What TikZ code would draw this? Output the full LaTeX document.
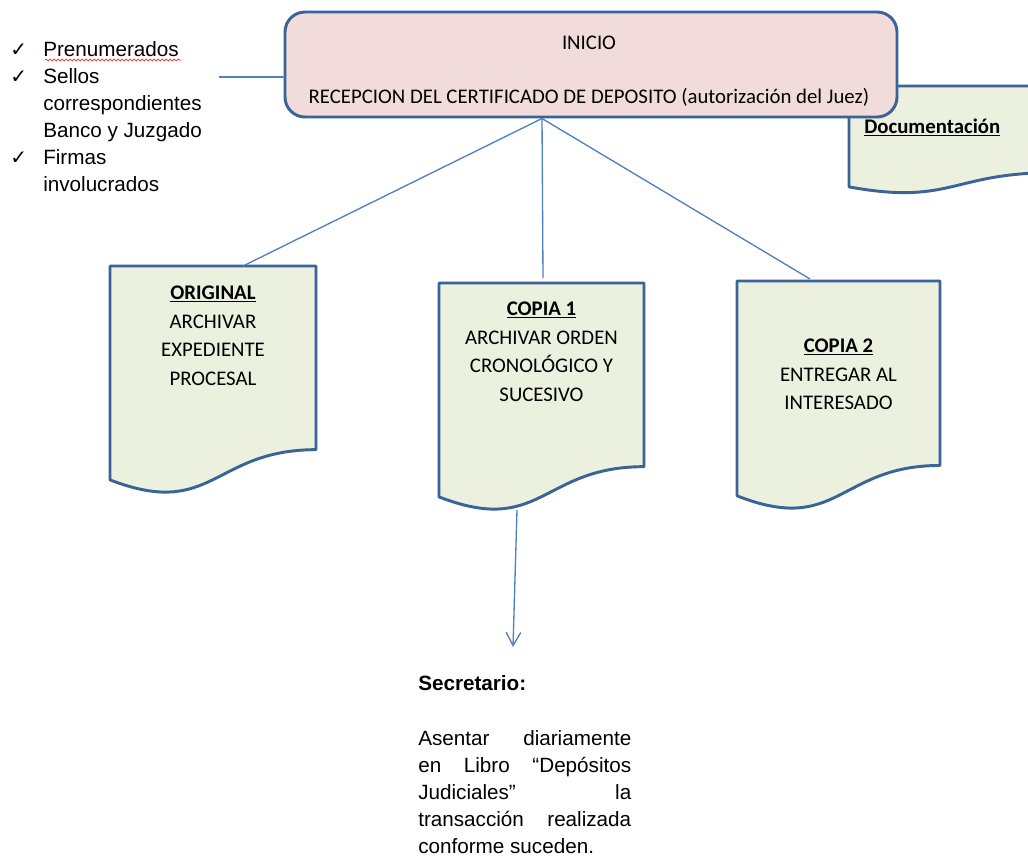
\documentclass[tikz,border=0pt]{standalone}
\usepackage{fontspec}
\setmainfont{Carlito}
\newfontfamily\listfont{Liberation Sans}
\newfontfamily\tickfont{DejaVu Sans}
\usetikzlibrary{calc,arrows.meta,decorations.pathmorphing}

\definecolor{boxline}{HTML}{3A6397}
\definecolor{pinkfill}{HTML}{F2DCDB}
\definecolor{docfill}{HTML}{EBF1DE}
\definecolor{linkblue}{HTML}{4F81BD}

\tolerance=10000
\hbadness=10000

\tikzset{
  startbox/.style={draw=boxline, line width=2.2pt, fill=pinkfill, rounded corners=15pt, inner sep=0pt, outer sep=0pt},
  docshape/.style={draw=boxline, line width=2.2pt, fill=docfill, line join=round},
  docarea/.style={inner sep=0pt, outer sep=0pt, anchor=north west},
  calibri/.style={font=\fontsize{15.6pt}{21.5pt}\selectfont, inner sep=0pt},
  doctext/.style={calibri, align=center, anchor=north},
  arial/.style={font=\listfont\fontsize{15.5pt}{20.25pt}\selectfont, inner sep=0pt},
  conn/.style={draw=linkblue, line width=1pt},
}

% check mark followed by the item indent
\newcommand\tick{\makebox[24.75pt][l]{\tickfont\fontsize{15pt}{15pt}\selectfont ✓}}
\newcommand\itemgap{\hspace*{24.75pt}}

% flowchart "document" shape: name, left, top, width, height (px units)
\newcommand\docbox[5]{%
  \pgfmathsetmacro\dxr{#2+#4}%
  \pgfmathsetmacro\dxm{#2+0.5*#4}%
  \pgfmathsetmacro\dyr{#3+0.802*#5}%
  \pgfmathsetmacro\dyc{#3+1.1075*#5}%
  \pgfmathsetmacro\dyl{#3+0.934*#5}%
  \path[docshape] (#2,#3) -- (\dxr,#3) -- (\dxr,\dyr)
    .. controls (\dxm,\dyr) and (\dxm,\dyc) .. (#2,\dyl) -- cycle;
  \node[docarea, minimum width=#4*0.75pt, minimum height=#5*0.75pt] (#1) at (#2,#3) {};
}

\begin{document}
\begin{tikzpicture}[x=0.75pt,y=-0.75pt]
\useasboundingbox (0,0) rectangle (1028,861);
\clip (0,0) rectangle (1028,861);
\fill[white] (0,0) rectangle (1028,861);

% documentation sheet behind the start box
\docbox{docu}{849}{86}{205}{108}
\node[calibri, anchor=base west] (docu-text) at (864,133) {\textbf{\underline{Documentación}}};

% start box
\node[startbox, minimum width=612*0.75pt, minimum height=105*0.75pt] (inicio) at (591,64.5) {};
\node[calibri, anchor=base] (inicio-title) at (589,49) {INICIO};
\node[calibri, anchor=base] (inicio-text) at (589,103) {RECEPCION DEL CERTIFICADO DE DEPOSITO (autorización del Juez)};

% checklist
\node[arial, anchor=north west, align=left] (checks) at (10,41)
  {\tick Prenumerados\\ \tick Sellos\\ \itemgap correspondientes\\ \itemgap Banco y Juzgado\\ \tick Firmas\\ \itemgap involucrados};
\draw[red, decorate, decoration={snake, amplitude=0.7pt, segment length=3pt}] (45,60) -- (181,60);
\coordinate (checks-end) at (219,77);
\draw[conn] (checks-end) -- (checks-end -| inicio.west);

% the three copies
\docbox{orig}{110}{266}{206}{229}
\docbox{copy1}{439}{283}{205}{229}
\docbox{copy2}{737}{281}{203}{230}

\node[doctext] (orig-text) at (213,285.5)
  {\textbf{\underline{ORIGINAL}}\\ARCHIVAR\\EXPEDIENTE\\PROCESAL};
\node[doctext] (copy1-text) at (541.5,301.5)
  {\textbf{\underline{COPIA 1}}\\ARCHIVAR ORDEN\\CRONOLÓGICO Y\\SUCESIVO};
\node[doctext] (copy2-text) at (838.5,338.5)
  {\textbf{\underline{COPIA 2}}\\ENTREGAR AL\\INTERESADO};

\draw[conn] ($(inicio.south)+(-49,1.5)$) -- ($(orig.north)+(30,0)$);
\draw[conn] ($(inicio.south)+(-49,1.5)$) -- ($(copy1.north)+(1.5,-5)$);
\draw[conn] ($(inicio.south)+(-49,1.5)$) -- ($(copy2.north)+(-28.5,-2)$);

% secretary task
\node[arial, anchor=base west] (secr) at (418,690) {\textbf{Secretario:}};
\node[arial, anchor=north west, text width=159.75pt, align=justify] (secr-text) at (418,730)
  {Asentar diariamente\linebreak en Libro “Depósitos\linebreak Judiciales” la\linebreak transacción realizada\linebreak conforme suceden.};
\coordinate (secr-arrow) at (513,647);
\draw[conn, -{Straight Barb[length=10pt, width=11pt]}] ($(copy1.south)+(-24.5,-2)$) -- (secr-arrow);
\end{tikzpicture}
\end{document}
